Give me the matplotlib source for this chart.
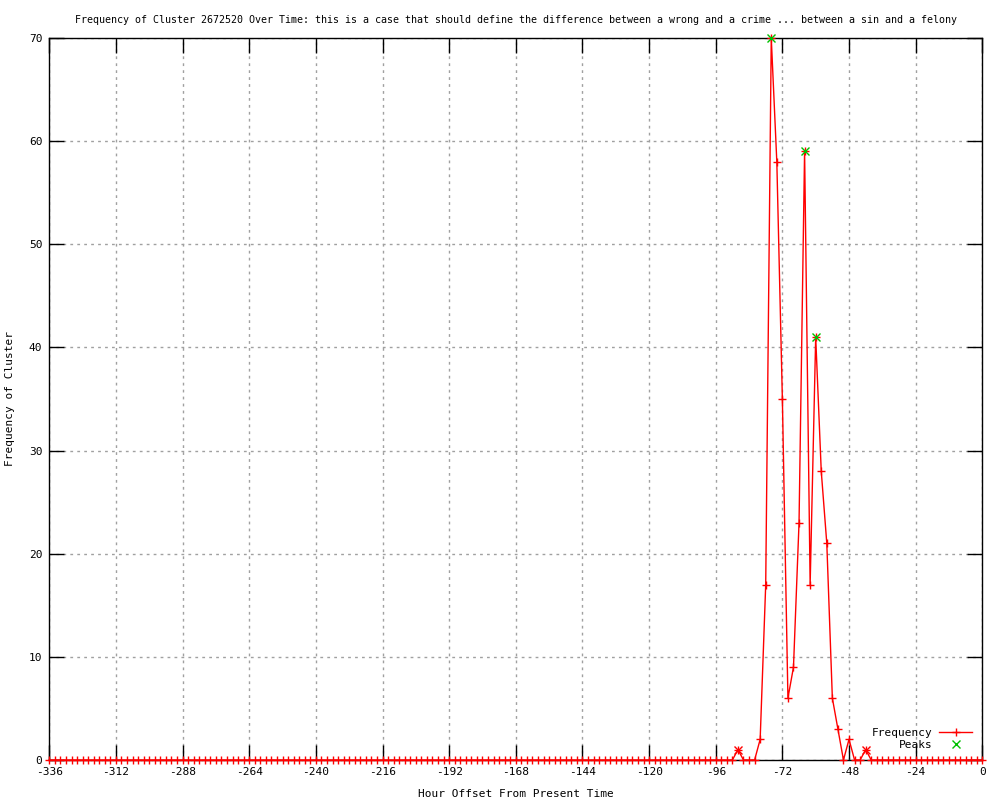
import matplotlib
matplotlib.use("Agg")
import matplotlib.pyplot as plt

# Hour offsets sampled every 2 hours
hours = list(range(-336, 1, 2))

# Non-zero frequencies
nonzero = {
    -88: 1, -80: 2, -78: 17, -76: 70, -74: 58, -72: 35, -70: 6,
    -68: 9, -66: 23, -64: 59, -62: 17, -60: 41, -58: 28, -56: 21,
    -54: 6, -52: 3, -48: 2, -42: 1,
}
freq = [nonzero.get(h, 0) for h in hours]

# Detected peaks
peak_hours = [-76, -64, -60]
peak_vals = [70, 59, 41]
small_peak_hours = [-88, -42]
small_peak_vals = [1, 1]

title = ("Frequency of Cluster 2672520 Over Time: this is a case that should define "
         "the difference between a wrong and a crime ... between a sin and a felony")

plt.rcParams["font.family"] = "DejaVu Sans Mono"
plt.rcParams["font.size"] = 8
plt.rcParams["axes.unicode_minus"] = False

fig = plt.figure(figsize=(10, 8), dpi=100)
ax = fig.add_axes([0.0493, 0.05, 0.933, 0.9025])

ax.plot(hours, freq, color="red", linewidth=1, marker="+", markersize=6,
        markeredgewidth=1, label="Frequency", clip_on=False, zorder=3)
ax.plot(peak_hours, peak_vals, linestyle="none", marker="x", color="#00c000",
        markersize=5.5, markeredgewidth=1, label="Peaks", clip_on=False, zorder=4)
ax.plot(small_peak_hours, small_peak_vals, linestyle="none", marker="x", color="red",
        markersize=5.5, markeredgewidth=1, clip_on=False, zorder=4)

ax.set_xlim(-336, 0)
ax.set_ylim(0, 70)
ax.set_xticks(range(-336, 1, 24))
ax.set_yticks(range(0, 71, 10))
ax.tick_params(direction="in", length=11, width=1, top=True, right=True, pad=5)
ax.grid(True, color="#a0a0a0", linestyle=(0, (2, 3)), linewidth=1)
for s in ax.spines.values():
    s.set_linewidth(1)

ax.set_xlabel("Hour Offset From Present Time", labelpad=9)
ax.set_ylabel("Frequency of Cluster", labelpad=10)
ax.set_title(title, fontsize=7.2, pad=11)

ax.legend(loc="lower right", frameon=False, markerfirst=False, handlelength=3,
          borderaxespad=0.5, labelspacing=0.2, handletextpad=0.6)

fig.savefig("out.png", dpi=100)
